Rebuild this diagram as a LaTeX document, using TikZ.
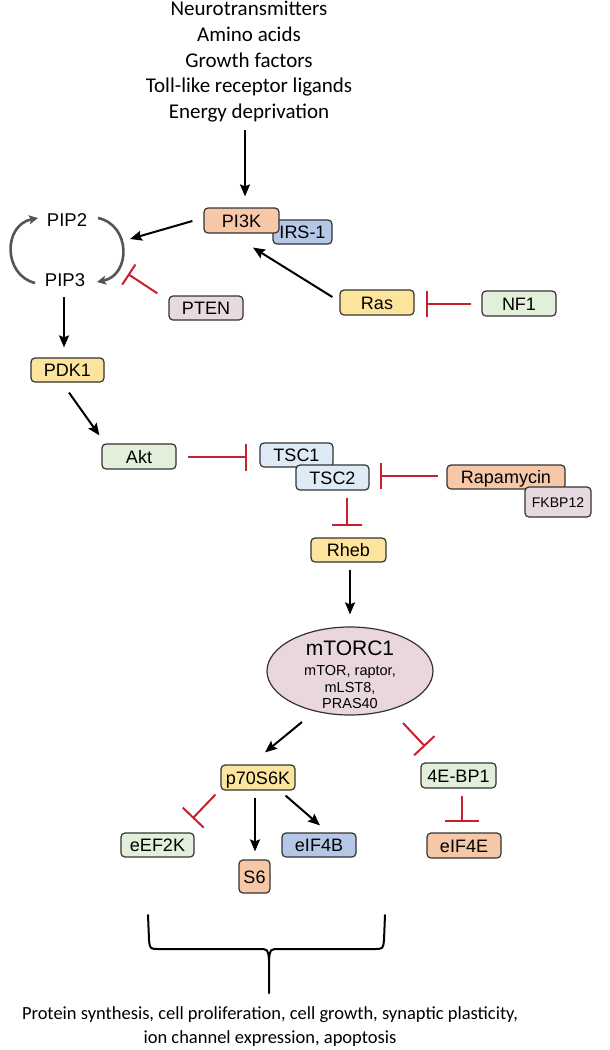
\documentclass[tikz,border=0pt]{standalone}
\usepackage{fontspec}
\setmainfont{Liberation Sans}
\newfontfamily\calfont{Carlito}
\usetikzlibrary{arrows.meta,calc,shapes.geometric}
\definecolor{peach}{HTML}{F6C8A8}
\definecolor{bluebox}{HTML}{B4C7E7}
\definecolor{yellowbox}{HTML}{FCE49C}
\definecolor{greenbox}{HTML}{E2EFDA}
\definecolor{tscblue}{HTML}{DEEBF7}
\definecolor{mauve}{HTML}{E8D8E0}
\definecolor{mtorfill}{HTML}{E9D7DB}
\definecolor{boxline}{HTML}{333333}
\definecolor{inhred}{HTML}{C8202F}
\definecolor{cycgray}{HTML}{555555}
\begin{document}
\begin{tikzpicture}[x=1pt,y=-1pt,
  box/.style={draw=boxline, line width=1.2pt, rounded corners=4pt, inner sep=0pt,
    minimum width=74pt, minimum height=25pt, text height=13pt, text depth=0pt,
    font=\fontsize{18}{20}\selectfont},
  plain/.style={inner sep=0pt, text height=13pt, text depth=0pt, font=\fontsize{18.5}{20}\selectfont},
  act/.style={draw=black, line width=2pt, -{Stealth[length=12pt,width=10pt,inset=2pt]}},
  inh/.style={draw=inhred, line width=2pt, -{Bar[width=#1]}},
  inh/.default=26pt,
  cyc/.style={draw=cycgray, line width=2.6pt, -{Stealth[length=9pt,width=9pt,inset=2pt]}},
  brace/.style={draw=black, line width=2pt, line cap=round, line join=round}]
\fill[white] (0,0) rectangle (610,1050);
\useasboundingbox (0,0) rectangle (610,1050);

% top inputs
\node[inner sep=0pt, anchor=north, align=center, font=\calfont\fontsize{21}{25.7}\selectfont] (inputs) at (249,1)
  {Neurotransmitters\\Amino acids\\Growth factors\\Toll-like receptor ligands\\Energy deprivation};

% nodes
\node[box, fill=bluebox, minimum width=59pt, minimum height=24pt] (IRS) at (302.5,232) {IRS-1};
\node[box, fill=peach, minimum width=75pt] (PI3K) at (241.5,220.5) {PI3K};
\node[plain] (PIP2) at (67,220) {PIP2};
\node[plain] (PIP3) at (65,280) {PIP3};
\node[box, fill=mauve, minimum height=24pt] (PTEN) at (206,308) {PTEN};
\node[box, fill=yellowbox] (Ras) at (377,302.5) {Ras};
\node[box, fill=greenbox] (NF1) at (519,303.5) {NF1};
\node[box, fill=yellowbox, minimum width=73pt, minimum height=24pt] (PDK1) at (67.5,370) {PDK1};
\node[box, fill=greenbox] (Akt) at (139,456.5) {Akt};
\node[box, fill=tscblue, minimum width=73pt, minimum height=24pt] (TSC1) at (296.5,455) {TSC1};
\node[box, fill=tscblue, minimum width=73pt] (TSC2) at (332.5,477.5) {TSC2};
\node[box, fill=peach, minimum width=118pt, minimum height=24pt] (Rapa) at (506,477) {Rapamycin};
\node[box, fill=mauve, minimum width=66pt, minimum height=30pt, text height=10pt, font=\fontsize{14}{16}\selectfont] (FKBP) at (558,502) {FKBP12};
\node[box, fill=yellowbox, minimum width=75pt, minimum height=24pt] (Rheb) at (348.5,550) {Rheb};
\node[draw=boxline, line width=1.2pt, fill=mtorfill, ellipse, inner sep=0pt, minimum width=166pt, minimum height=88pt] (mTORC1) at (350,671) {};
\node[inner sep=0pt, anchor=north, align=center, font=\fontsize{14.5}{16.5}\selectfont] (mTORC1txt) at (350,640.5)
  {{\fontsize{21}{16.5}\selectfont mTORC1}\\[4pt]mTOR, raptor,\\mLST8,\\PRAS40};
\node[box, fill=yellowbox] (p70) at (258,777.5) {p70S6K};
\node[box, fill=greenbox, minimum width=75pt] (BP1) at (458.5,775.5) {4E-BP1};
\node[box, fill=greenbox, minimum width=73pt, minimum height=24pt] (eEF2K) at (157.5,845) {eEF2K};
\node[box, fill=peach, minimum width=31pt, minimum height=33pt] (S6) at (254.5,876.5) {S6};
\node[box, fill=bluebox, minimum height=24pt] (eIF4B) at (319,845) {eIF4B};
\node[box, fill=peach] (eIF4E) at (464,845.5) {eIF4E};

% connectors
\draw[act] ($(inputs.south)+(-4,8)$) -- ($(PI3K.north)+(3.5,-11)$);
\draw[act] ($(PI3K.west)+(-11,0.5)$) -- ($(PIP2)+(63,19)$);
\draw[act] ($(Ras.west)+(-7,-5.5)$) -- ($(PI3K.south)+(11.5,14)$);
\draw[inh] ($(NF1.west)+(-10,0.5)$) -- ($(Ras.east)+(11,1.5)$);
\draw[inh=24pt] ($(PTEN.north west)+(-11,-2)$) -- ($(PIP3)+(63,-6)$);
\draw[cyc] ($(PIP3)+(-30,3)$) .. controls ($(PIP3)+(-62,-5)$) and ($(PIP2)+(-64,5)$) .. ($(PIP2)+(-29,-2)$);
\draw[cyc] ($(PIP2)+(31,-2)$) .. controls ($(PIP2)+(64,5)$) and ($(PIP3)+(66,-5)$) .. ($(PIP3)+(32,2)$);
\draw[act] ($(PIP3)+(-1,17)$) -- ($(PDK1.north)+(-3.5,-10)$);
\draw[act] ($(PDK1.south)+(1.5,10)$) -- ($(Akt.north west)+(-2,-8)$);
\draw[inh=27pt] ($(Akt.east)+(11,0.5)$) -- ($(TSC1.west)+(-12,2)$);
\draw[inh] ($(Rapa.west)+(-8,-1)$) -- ($(TSC2.east)+(10,-1.5)$);
\draw[inh=30pt] ($(Rheb.north)+(-1.5,-39)$) -- ($(Rheb.north)+(-1.5,-11)$);
\draw[act] ($(Rheb.south)+(1.5,7)$) -- ($(mTORC1.north)+(0,-12)$);
\draw[act] ($(mTORC1)+(-48,51)$) -- ($(p70.north)+(7,-12)$);
\draw[inh=28pt] ($(mTORC1)+(53,52)$) -- ($(BP1.north)+(-33.5,-16)$);
\draw[inh=29pt] ($(p70.south west)+(-5,4)$) -- ($(eEF2K.north east)+(-2,-14)$);
\draw[act] ($(p70.south)+(-3,7)$) -- ($(S6.north)+(0.5,-8)$);
\draw[act] ($(p70.south east)+(-10,5)$) -- ($(eIF4B.north)+(1,-7)$);
\draw[inh=34pt] ($(BP1.south)+(3.5,7)$) -- ($(eIF4E.north)+(-2,-10)$);

% brace
\draw[brace] (148,915) -- (149,940) .. controls (150,949) .. (159,949) -- (258,949)
  .. controls (268,949) .. (269,960) -- (269,993);
\draw[brace] (385,915) -- (384,940) .. controls (383,949) .. (374,949) -- (280,949)
  .. controls (270,949) .. (269,960);

% outcome text
\node[inner sep=0pt, anchor=north, align=center, font=\calfont\fontsize{18.5}{24}\selectfont] (outcome) at (270,1006)
  {Protein synthesis, cell proliferation, cell growth, synaptic plasticity,\\ion channel expression, apoptosis};
\end{tikzpicture}
\end{document}
